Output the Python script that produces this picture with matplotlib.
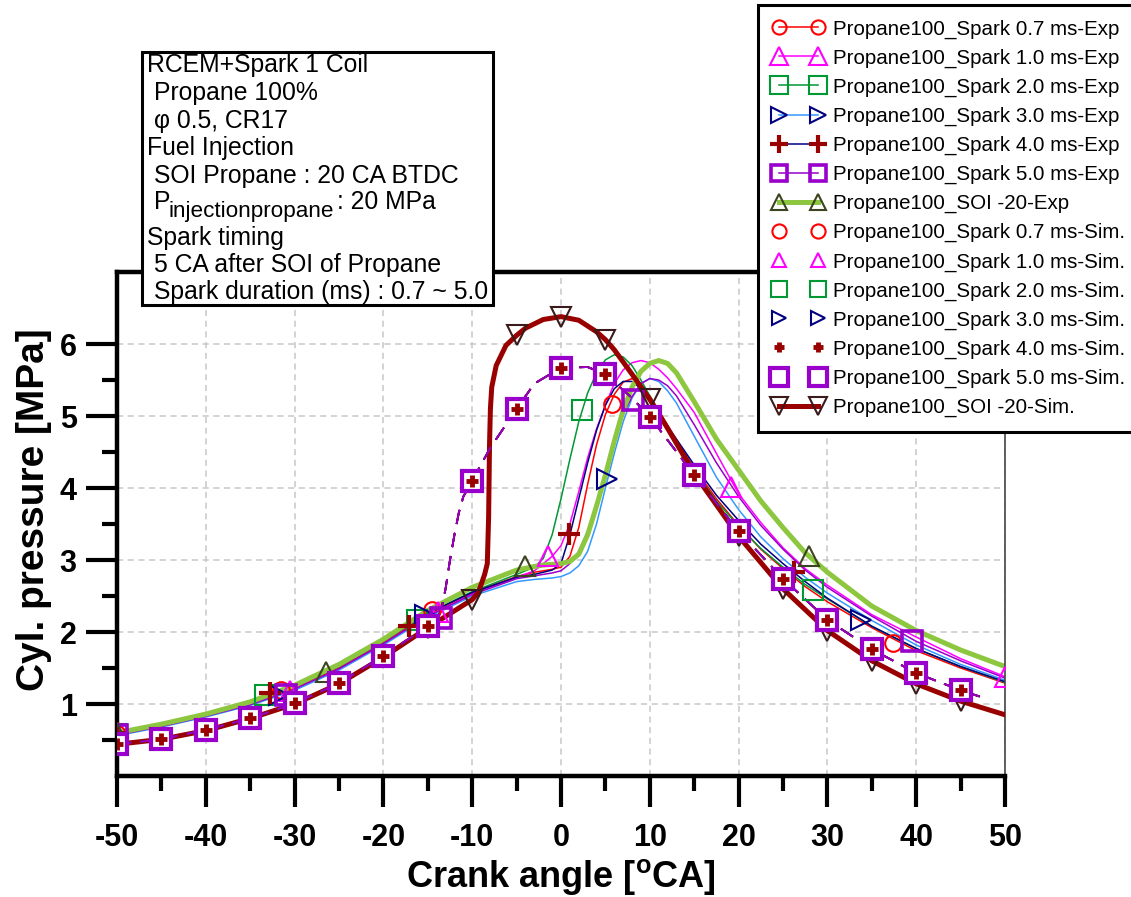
import matplotlib
matplotlib.use('Agg')
import matplotlib.pyplot as plt
from matplotlib.patches import Rectangle
from matplotlib.legend_handler import HandlerTuple

plt.rcParams['font.family'] = ['Liberation Sans', 'DejaVu Sans']
plt.rcParams['axes.unicode_minus'] = False

W, H = 1131, 897


def fx(px):
    return px / W


def fy(py):
    return 1 - py / H


# ---- data ----
ca_exp = [-50, -45, -40, -35, -30, -25, -20, -15, -10, -5, -3, -2, -1, 0,
          1, 2, 3, 4, 5, 6, 7, 8, 9, 10, 11, 12, 13,
          15, 17.5, 20, 22.5, 25, 27.5, 30, 35, 40, 45, 50]

p_07 = [0.58, 0.70, 0.84, 1.01, 1.23, 1.50, 1.85, 2.24, 2.55, 2.77, 2.83, 2.85, 2.87, 2.90,
        3.05, 3.45, 4.05, 4.60, 5.02, 5.30, 5.47, 5.52, 5.45, 5.28, 5.08, 4.87, 4.66,
        4.28, 3.85, 3.48, 3.15, 2.88, 2.63, 2.42, 2.06, 1.74, 1.50, 1.29]
p_10 = [0.57, 0.69, 0.83, 0.99, 1.20, 1.48, 1.83, 2.22, 2.53, 2.76, 2.85, 2.95, 3.05, 3.20,
        3.50, 3.95, 4.42, 4.82, 5.15, 5.45, 5.64, 5.74, 5.77, 5.74, 5.65, 5.53, 5.38,
        5.05, 4.48, 3.92, 3.52, 3.17, 2.88, 2.65, 2.24, 1.93, 1.63, 1.38]
p_20 = [0.59, 0.71, 0.85, 1.02, 1.24, 1.52, 1.87, 2.26, 2.56, 2.80, 2.90, 3.02, 3.35, 3.85,
        4.40, 4.92, 5.32, 5.60, 5.78, 5.85, 5.82, 5.70, 5.50, 5.28, 5.06, 4.85, 4.65,
        4.25, 3.82, 3.47, 3.16, 2.90, 2.66, 2.46, 2.08, 1.77, 1.52, 1.30]
p_30 = [0.56, 0.68, 0.82, 0.98, 1.19, 1.47, 1.82, 2.20, 2.50, 2.70, 2.73, 2.74, 2.75, 2.77,
        2.82, 2.92, 3.12, 3.50, 4.00, 4.48, 4.92, 5.25, 5.45, 5.52, 5.48, 5.35, 5.18,
        4.72, 4.15, 3.70, 3.32, 3.02, 2.76, 2.54, 2.16, 1.82, 1.55, 1.33]
p_40 = [0.60, 0.72, 0.86, 1.03, 1.25, 1.53, 1.88, 2.26, 2.55, 2.76, 2.80, 2.83, 2.86, 2.95,
        3.35, 3.85, 4.35, 4.80, 5.15, 5.38, 5.48, 5.48, 5.38, 5.22, 5.04, 4.86, 4.68,
        4.32, 3.90, 3.55, 3.22, 2.95, 2.70, 2.47, 2.08, 1.77, 1.52, 1.31]
p_50 = [0.57, 0.69, 0.83, 0.99, 1.21, 1.49, 1.84, 2.22, 2.52, 2.74, 2.78, 2.80, 2.82, 2.85,
        2.95, 3.12, 3.40, 3.78, 4.22, 4.68, 5.02, 5.27, 5.45, 5.52, 5.50, 5.42, 5.28,
        4.88, 4.35, 3.88, 3.48, 3.15, 2.86, 2.62, 2.22, 1.87, 1.60, 1.36]
p_soi_exp = [0.60, 0.72, 0.86, 1.03, 1.26, 1.55, 1.90, 2.30, 2.62, 2.86, 2.91, 2.93, 2.94, 2.95,
             2.98, 3.08, 3.35, 3.75, 4.18, 4.65, 5.08, 5.40, 5.62, 5.73, 5.77, 5.73, 5.60,
             5.20, 4.68, 4.25, 3.82, 3.45, 3.10, 2.83, 2.36, 2.02, 1.75, 1.52]

# experiment marker positions
mk07_ca = [-50, -31.5, -14.5, 5.7, 37.4]
mk07_p = [0.58, 1.20, 2.30, 5.17, 1.85]
mk10_ca = [-50, -30.5, -13.8, -1.5, 19.2, 50]
mk10_p = [0.57, 1.18, 2.28, 3.05, 4.02, 1.37]
mk20_ca = [-50, -33.3, -16.2, 2.4, 28.4]
mk20_p = [0.59, 1.13, 2.16, 5.08, 2.59]
mk30_ca = [-50, -31.8, -15.3, 5.2, 33.8]
mk30_p = [0.56, 1.12, 2.24, 4.12, 2.16]
mk40_ca = [-50, -32.8, -17.1, 0.9, 26.2]
mk40_p = [0.60, 1.15, 2.08, 3.36, 2.84]
mk50_ca = [-50, -31.0, -13.5, 8.1, 39.5]
mk50_p = [0.57, 1.12, 2.20, 5.22, 1.88]
mksoi_ca = [-50, -26.5, -4.0, 27.9]
mksoi_p = [0.60, 1.45, 2.92, 3.05]

# simulation (spark 0.7 ~ 5.0 ms all give the same trace)
sim_ca = [-50, -45, -40, -35, -30, -25, -20, -15, -14, -13.5, -13, -12.5, -12, -11.5, -11, -10,
          -8, -5, -3, 0, 3, 5, 8, 10, 15, 20, 25, 30, 35, 40, 45, 48]
sim_p = [0.44, 0.51, 0.64, 0.80, 1.01, 1.29, 1.67, 2.08, 2.18, 2.30, 2.60, 3.00, 3.35, 3.66, 3.88, 4.10,
         4.55, 5.10, 5.45, 5.67, 5.68, 5.58, 5.25, 4.99, 4.18, 3.40, 2.74, 2.17, 1.76, 1.43, 1.19, 1.07]
sim_mk_ca = [-50, -45, -40, -35, -30, -25, -20, -15, -10, -5, 0, 5, 10, 15, 20, 25, 30, 35, 40, 45]
sim_mk_p = [0.44, 0.51, 0.64, 0.80, 1.01, 1.29, 1.67, 2.08, 4.10, 5.10,
            5.67, 5.58, 4.99, 4.18, 3.40, 2.74, 2.17, 1.76, 1.43, 1.19]

soi_sim_ca = [-50, -45, -40, -35, -30, -25, -20, -15, -10, -9.3, -8.6, -8.3, -8.15, -8.05, -7.95,
              -7.8, -7.3, -6.2, -5, -4, -2, 0, 2, 4, 5, 6, 8, 10, 12,
              15, 20, 25, 30, 35, 40, 45, 50]
soi_sim_p = [0.44, 0.51, 0.63, 0.80, 1.00, 1.28, 1.65, 2.06, 2.45, 2.55, 2.80, 2.95, 3.60, 4.60, 5.10,
             5.40, 5.70, 5.98, 6.12, 6.22, 6.34, 6.38, 6.33, 6.17, 6.06, 5.92, 5.58, 5.23, 4.83,
             4.20, 3.33, 2.60, 2.02, 1.60, 1.28, 1.04, 0.85]
soi_sim_mk_ca = [-50, -45, -40, -35, -30, -25, -20, -15, -10, -5, 0, 5, 10, 15, 20, 25, 30, 35, 40, 45]
soi_sim_mk_p = [0.44, 0.51, 0.63, 0.80, 1.00, 1.28, 1.65, 2.06, 2.45, 6.12,
                6.38, 6.06, 5.23, 4.20, 3.33, 2.60, 2.02, 1.60, 1.28, 1.04]

durations = ['0.7', '1.0', '2.0', '3.0', '4.0', '5.0']

RED, MAG, GRN, NAVY, BLUE = '#ff0000', '#ff00ff', '#009933', '#000080', '#3399ff'
DRED, PURP, YGRN, OLIVE = '#990000', '#9900cc', '#8dc63f', '#3b4420'

fig = plt.figure(figsize=(W / 100, H / 100), dpi=100)
ax = fig.add_axes([fx(117), fy(776), (1005 - 117) / W, (776 - 272) / H])

# ---- experiments ----
exp_sets = [
    (p_07, RED, mk07_ca, mk07_p, 'o', RED, 12),
    (p_10, MAG, mk10_ca, mk10_p, '^', MAG, 15),
    (p_20, GRN, mk20_ca, mk20_p, 's', GRN, 15),
    (p_30, BLUE, mk30_ca, mk30_p, '>', NAVY, 14),
    (p_40, NAVY, mk40_ca, mk40_p, '+', DRED, 16),
    (p_50, PURP, mk50_ca, mk50_p, 's', PURP, 14),
]
handles = []
for p, lc, mca, mp, m, mc, ms in exp_sets:
    ln, = ax.plot(ca_exp, p, color=lc, lw=1.1, zorder=2)
    mew = 3 if m == '+' else (2.6 if mc == PURP else 1.5)
    mk, = ax.plot(mca, mp, ls='none', marker=m, ms=ms, mfc='none', mec=mc, mew=mew, zorder=4)
    handles.append((ln, mk))

ln, = ax.plot(ca_exp, p_soi_exp, color=YGRN, lw=3.6, zorder=2.5)
mk, = ax.plot(mksoi_ca, mksoi_p, ls='none', marker='^', ms=14, mfc='none', mec=OLIVE, mew=1.5, zorder=4)
handles.append((ln, mk))

# ---- simulations ----
sim_styles = [
    (RED, 'o', 12, 'none', 1.5, 5),
    (MAG, '^', 12, 'none', 1.5, 5),
    (GRN, 's', 13, 'none', 1.5, 5),
    (NAVY, '>', 12, 'none', 1.5, 5),
    (DRED, '+', 9, DRED, 3.5, 7),
    (PURP, 's', 14.5, 'white', 3.0, 6),
]
for c, m, ms, fc, mew, z in sim_styles:
    ax.plot(sim_ca, sim_p, color=c, lw=1.3, dashes=(8, 5), zorder=3.4 if c != PURP else 3.5)
    mk, = ax.plot(sim_mk_ca, sim_mk_p, ls='none', marker=m, ms=ms, mfc=fc, mec=c, mew=mew, zorder=z)
    handles.append(mk)

ln, = ax.plot(soi_sim_ca, soi_sim_p, color=DRED, lw=3.6, zorder=3)
mk, = ax.plot(soi_sim_mk_ca, soi_sim_mk_p, ls='none', marker='v', ms=15, mfc='none', mec='#3a1a1a',
              mew=1.5, zorder=4.5)
handles.append((ln, mk))

labels = ['Propane100_Spark %s ms-Exp' % d for d in durations] + ['Propane100_SOI -20-Exp'] + \
         ['Propane100_Spark %s ms-Sim.' % d for d in durations] + ['Propane100_SOI -20-Sim.']

# ---- axes styling ----
ax.set_xlim(-50, 50)
ax.set_ylim(0, 7)
ax.set_xticks(range(-50, 51, 10))
ax.set_xticks(range(-45, 50, 10), minor=True)
ax.set_yticks([1, 2, 3, 4, 5, 6])
ax.set_yticks([0.5, 1.5, 2.5, 3.5, 4.5, 5.5], minor=True)
ax.grid(True, which='major', color='#c8c8c8', lw=1.1, dashes=(4, 3))
ax.set_axisbelow(True)
ax.tick_params(which='major', direction='out', length=22, width=3, labelsize=22)
ax.tick_params(which='minor', direction='out', length=11, width=3)
ax.tick_params(axis='x', which='major', pad=12)
ax.tick_params(axis='y', which='major', pad=7)
for t in ax.get_xticklabels() + ax.get_yticklabels():
    t.set_fontweight('bold')
for s in ['left', 'bottom', 'top']:
    ax.spines[s].set_linewidth(3.2)
ax.spines['right'].set_linewidth(1.2)
ax.spines['right'].set_color('#444444')

fig.text(fx(561), fy(877), 'Crank angle [$^{\\mathregular{o}}$CA]', ha='center', va='center',
         fontsize=26, fontweight='bold')
fig.text(fx(34), fy(510), 'Cyl. pressure [MPa]', ha='center', va='center', rotation=90,
         fontsize=28, fontweight='bold')

# ---- info box ----
fig.patches.append(Rectangle((fx(142), fy(305)), (493 - 142) / W, (305 - 52) / H,
                             transform=fig.transFigure, fc='white', ec='black', lw=2.2, zorder=1))
box_lines = [
    (147, 65, 'RCEM+Spark 1 Coil', 17.8),
    (154, 93, 'Propane 100%', 17.8),
    (154, 121, 'φ 0.5, CR17', 17.8),
    (147, 148, 'Fuel Injection', 17.8),
    (154, 176, 'SOI Propane : 20 CA BTDC', 17.8),
    (154, 202, 'P', 17.8),
    (169, 212, 'injectionpropane', 16.2),
    (337, 202, ': 20 MPa', 17.8),
    (147, 238, 'Spark timing', 17.8),
    (154, 265, '5 CA after SOI of Propane', 17.8),
    (154, 292, 'Spark duration (ms) : 0.7 ~ 5.0', 17.8),
]
for x, y, s, fs in box_lines:
    fig.text(fx(x), fy(y), s, ha='left', va='center', fontsize=fs, zorder=3)

# ---- legend ----
leg = fig.legend(handles, labels, loc='upper left', bbox_to_anchor=(fx(758), fy(5)),
                 fontsize=14.8, numpoints=2, markerscale=0.85, handlelength=2.5, handletextpad=0.45,
                 labelspacing=0.48, borderpad=0.7, borderaxespad=0, frameon=True,
                 fancybox=False, edgecolor='black', framealpha=1,
                 handler_map={tuple: HandlerTuple(ndivide=1, pad=0)})
leg.get_frame().set_linewidth(2.2)

fig.savefig('out.png', dpi=100)
